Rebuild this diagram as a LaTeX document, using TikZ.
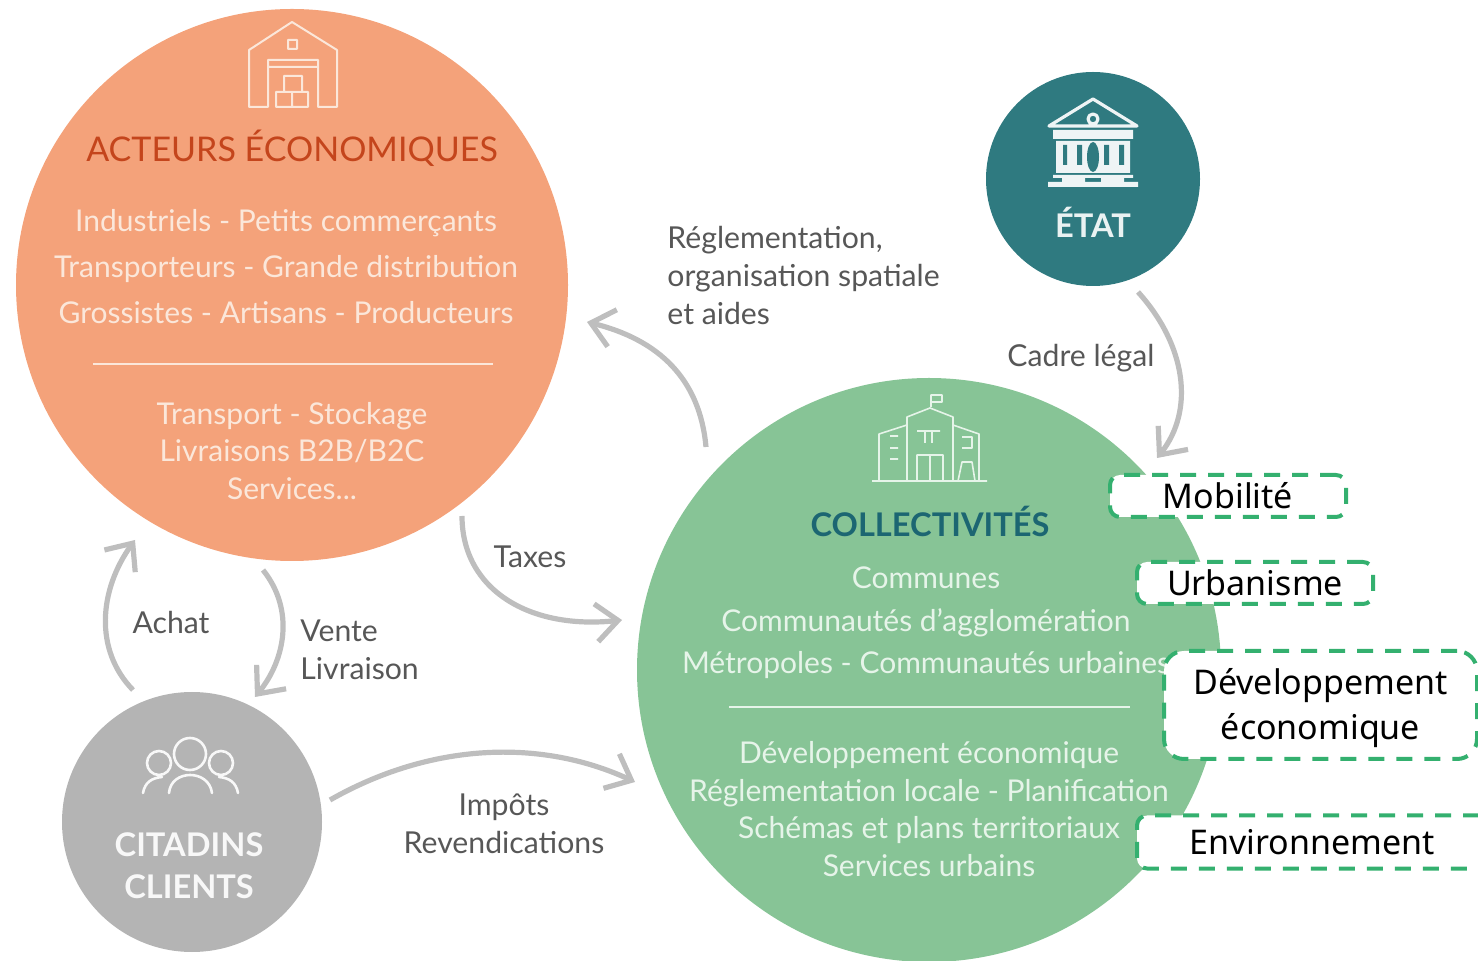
\documentclass[tikz,border=0pt]{standalone}
\usepackage{fontspec}
\setmainfont{Lato}
\newfontfamily\boxfont{Noto Sans}
\usetikzlibrary{arrows.meta, positioning}
\definecolor{orangefill}{HTML}{F4A27A}
\definecolor{orangetitle}{HTML}{C4451C}
\definecolor{orangetext}{HTML}{FBE7DA}
\definecolor{tealfill}{HTML}{2F7A80}
\definecolor{greenfill}{HTML}{87C496}
\definecolor{greentitle}{HTML}{1C6672}
\definecolor{greentext}{HTML}{E6F4E9}
\definecolor{greyfill}{HTML}{B4B4B4}
\definecolor{flowgrey}{HTML}{BEBEBE}
\definecolor{labelgrey}{HTML}{575757}
\definecolor{dashgreen}{HTML}{34B06F}
\tikzset{
x=0.5pt, y=-0.5pt, % one unit is one pixel of the reference, going down
bubble/.style={circle, inner sep=0pt}, % the four big discs
title text/.style={font=\bfseries\fontsize{16.3}{21}\selectfont},
wide text/.style={align=center, font=\fontsize{15}{23}\selectfont}, % lines far apart
tight text/.style={align=center, font=\fontsize{15}{18.8}\selectfont}, % lines close together
flow label/.style={align=left, text=labelgrey, inner sep=0pt, font=\fontsize{15.1}{19}\selectfont},
flow/.style={-{Straight Barb[length=11pt, width=19pt, line width=2.6pt]}, draw=flowgrey, line width=2.6pt}, % grey arrows
topic/.style={draw=dashgreen, fill=white, line width=2pt, dash pattern=on 8pt off 6pt, rounded corners=5pt,
  align=center, text=black, inner sep=0pt, outer sep=0pt, font=\boxfont\fontsize{17}{22.5}\selectfont},
icon/.style={line width=1pt, line join=round}, % thin pictograms
}
\begin{document}
\begin{tikzpicture}
\useasboundingbox (0,0) rectangle (1478,961);

            \node[bubble, fill=orangefill, minimum size=276pt] (acteurs) at (292,285) {};
            \node[bubble, fill=tealfill, minimum size=107pt] (etat) at (1093,179) {};
            \node[bubble, fill=greenfill, minimum size=292pt] (collectivites) at (929,670) {};
            \node[bubble, fill=greyfill, minimum size=130pt] (citadins) at (192,822) {};

            % acteurs
            \node[text=orangetitle, font=\fontsize{17}{21}\selectfont] (acteursTitle) at (292,148) {ACTEURS ÉCONOMIQUES};
            \node[wide text, text=orangetext] (acteursList) at (286,267) {Industriels - Petits commerçants\\Transporteurs - Grande distribution\\Grossistes - Artisans - Producteurs};
            \coordinate (acteursRuleA) at (93,364);
            \coordinate (acteursRuleB) at (493,364);
            \draw[orangetext, line width=1pt] (acteursRuleA) -- (acteursRuleB);
            \node[tight text, text=orangetext] (acteursJobs) at (292,451) {Transport - Stockage\\Livraisons B2B/B2C\\Services...};

            % etat
            \node[title text, text=white!90!tealfill] (etatTitle) at (1093,222) {ÉTAT};

            % collectivites
            \node[title text, text=greentitle] (collTitle) at (930,521) {COLLECTIVITÉS};
            \node[align=center, text=greentext, font=\fontsize{15}{21.3}\selectfont] (collList) at (926,623) {Communes\\Communautés d’agglomération\\Métropoles - Communautés urbaines};
            \coordinate (collRuleA) at (729,707);
            \coordinate (collRuleB) at (1130,707);
            \draw[greentext, line width=1pt] (collRuleA) -- (collRuleB);
            \node[tight text, text=greentext] (collJobs) at (929,809) {Développement économique\\Réglementation locale - Planification\\Schémas et plans territoriaux\\Services urbains};

            % citadins
            \node[align=center, text=white!90!greyfill, font=\bfseries\fontsize{16.3}{21}\selectfont] (citadinsTitle) at (189,866) {CITADINS\\CLIENTS};

            % free ends of the arrows
            \coordinate (reglA) at (706,447);
            \coordinate (reglB) at (587,322);
            \coordinate (cadreA) at (1138,292);
            \coordinate (cadreB) at (1157,458);
            \coordinate (taxesA) at (462,516);
            \coordinate (taxesB) at (622,620);
            \coordinate (achatA) at (133,690);
            \coordinate (achatB) at (135,540);
            \coordinate (venteA) at (263,570);
            \coordinate (venteB) at (255,697);
            \coordinate (impotsA) at (330,800);
            \coordinate (impotsB) at (635,782);

            \draw[flow] (reglA) .. controls (700,380) and (660,340) .. (reglB);
            \draw[flow] (cadreA) .. controls (1186,345) and (1195,410) .. (cadreB);
            \draw[flow] (taxesA) .. controls (462,590) and (530,630) .. (taxesB);
            \draw[flow] (achatA) .. controls (94,650) and (99,590) .. (achatB);
            \draw[flow] (venteA) .. controls (295,610) and (285,660) .. (venteB);
            \draw[flow] (impotsA) .. controls (430,743) and (540,738) .. (impotsB);

            \node[flow label, anchor=west] (reglLabel) at (667,276) {Réglementation,\\organisation spatiale\\et aides};
            \node[flow label] (cadreLabel) at (1081,358) {Cadre légal};
            \node[flow label] (taxesLabel) at (530,557) {Taxes};
            \node[flow label] (achatLabel) at (171,623) {Achat};
            \node[flow label, anchor=west] (venteLabel) at (300,650) {Vente\\Livraison};
            \node[flow label, align=center] (impotsLabel) at (504,824) {Impôts\\Revendications};

            % pictograms
            \draw[icon, draw=orangetext] (249,107) -- (249,50) -- (292,22) -- (337,50) -- (337,107) -- (318,107) -- (318,60) -- (268,60) -- (268,107) -- cycle
                    (268,67) -- (318,67)
                    (288,40) rectangle (297,49)
                    (276,92) rectangle (308,107)
                    (292,92) -- (292,107)
                    (284,76) rectangle (302,92);

            \draw[white!92!tealfill, line width=1.6pt, line join=round] (1049,126) -- (1093,99) -- (1137,126) -- cycle
                    (1093,119) circle (5);
            \fill[white!92!tealfill] (1053,130) rectangle (1133,139)
                    (1056,141) rectangle (1130,173)
                    (1053,175) rectangle (1133,178)
                    (1048,182) rectangle (1138,187);
            \fill[white!92!tealfill] (1062,178) rectangle (1085,182)
                    (1101,178) rectangle (1124,182);
            \fill[tealfill] (1063,145) rectangle (1067,165)
                    (1077,145) rectangle (1082,165)
                    (1104,145) rectangle (1109,165)
                    (1119,145) rectangle (1124,165)
                    (1093,157) ellipse (6 and 15);

            \draw[icon, draw=greentext, line width=0.8pt] (872,481) -- (987,481)
                    (931,407) -- (931,395) -- (942,395) -- (942,402) -- (931,402)
                    (907,481) -- (907,417) -- (930,408) -- (953,417) -- (953,481)
                    (879,481) -- (879,434) -- (907,425)
                    (953,425) -- (979,434) -- (979,481)
                    (917,431) -- (940,431)
                    (925,431) -- (925,443)
                    (932,431) -- (932,443)
                    (917,481) -- (917,455) -- (943,455) -- (943,481)
                    (930,455) -- (930,481)
                    (890,436) -- (898,436)
                    (890,448) -- (898,448)
                    (890,459) -- (898,459)
                    (962,437) -- (972,437) -- (972,448) -- (962,448)
                    (958,481) -- (962,462) -- (972,462) -- (975,481);

            \draw[icon, draw=white!90!greyfill, line width=1.3pt, line cap=round] (190,754) circle (16)
                    (159,763) circle (12)
                    (221,763) circle (12)
                    (169,793) .. controls (171,769) and (209,769) .. (212,793)
                    (143,793) .. controls (145,782) and (152,778) .. (162,777)
                    (238,793) .. controls (236,782) and (229,778) .. (219,777);

            % labels on top
            \node[topic, minimum width=118pt, minimum height=21pt] (mobilite) at (1228,496) {Mobilité};
            \node[topic, minimum width=118pt, minimum height=21pt] (urbanisme) at (1255,583) {Urbanisme};
            \node[topic, rounded corners=10pt, minimum width=156.5pt, minimum height=54pt] (developpement) at (1320.5,705) {\rule{0pt}{16.5pt}Développement\\économique};
            \node[topic, minimum width=176pt, minimum height=26.5pt, anchor=west] (environnement) at (1137,842) {\hspace{-1pt}Environnement};
\end{tikzpicture}
\end{document}
